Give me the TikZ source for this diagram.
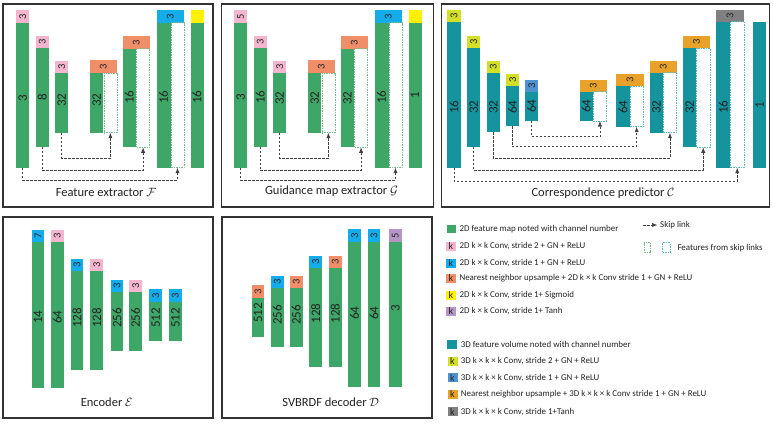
\documentclass[tikz,border=0pt]{standalone}
\usepackage{graphicx}
\usepackage{fontspec}
\setmainfont{Carlito}
\usetikzlibrary{arrows.meta}
\definecolor{fmgreen}{RGB}{62,166,102}
\definecolor{fvteal}{RGB}{22,148,158}
\definecolor{cpink}{RGB}{244,182,206}
\definecolor{cblue}{RGB}{20,172,235}
\definecolor{corange}{RGB}{240,142,106}
\definecolor{cyellow}{RGB}{255,240,0}
\definecolor{cpurple}{RGB}{180,150,198}
\definecolor{cygreen}{RGB}{212,224,40}
\definecolor{cblue3}{RGB}{78,146,210}
\definecolor{corange3}{RGB}{232,162,42}
\definecolor{cgray}{RGB}{128,128,128}
\definecolor{skipgr}{RGB}{120,190,140}
\definecolor{skiptl}{RGB}{90,190,195}
\definecolor{txt}{RGB}{35,35,35}
\tikzset{
  fmbody/.style={fill=fmgreen, draw=none, inner sep=0pt, outer sep=0pt},
  fvbody/.style={fill=fvteal, draw=none, inner sep=0pt, outer sep=0pt},
  skipg/.style={fill=white, draw=skipgr, dash pattern=on 1.5pt off 1pt, line width=0.5pt, inner sep=0pt, outer sep=0pt},
  skipt/.style={fill=white, draw=skiptl, dash pattern=on 1.5pt off 1pt, line width=0.5pt, inner sep=0pt, outer sep=0pt},
  hd/.style={inner sep=0pt, outer sep=0pt, draw=none, text=txt, font=\fontsize{10.5}{10.5}\selectfont},
  lbl/.style={inner sep=0pt, text=txt, font=\fontsize{13}{13}\selectfont},
  skiplink/.style={draw=black!75, line width=0.7pt, dash pattern=on 2.5pt off 1.5pt, -{Latex[length=5.5pt,width=4.2pt]}},
  panel/.style={draw=black!80, line width=1.8pt},
  ttl/.style={inner sep=0pt, text=txt, font=\fontsize{12.5}{12.5}\selectfont},
  lkey/.style={inner sep=0pt, outer sep=0pt, minimum width=10pt, minimum height=9pt, text=txt, font=\fontsize{10}{10}\selectfont},
  ltxt/.style={inner sep=0pt, text=txt, font=\fontsize{8.9}{8.9}\selectfont}
}
% name, x, w, top, bottom, style, label, label y
\newcommand{\fbar}[8]{%
  \node[#6, anchor=north west, minimum width=#3pt, minimum height={#5pt-#4pt}] (#1) at (#2,#4) {};
  \node[lbl] (#1l) at ({#2+#3/2},#8) {\rotatebox{90}{#7}};
}
% name, x, w, top, bottom, style, label
\newcommand{\fhead}[7]{%
  \node[hd, #6, anchor=north west, minimum width=#3pt, minimum height={#5pt-#4pt}] (#1) at (#2,#4) {\rotatebox{90}{#7}};
}
% name, x, w, top, bottom, style
\newcommand{\fskip}[6]{%
  \node[#6, anchor=north west, minimum width=#3pt, minimum height={#5pt-#4pt}] (#1) at (#2,#4) {};
}
% name, x, y, fill, keytext, text x, text
\newcommand{\lentry}[7]{%
  \node[lkey, fill=#4, anchor=west] (#1) at (#2,#3) {#5};
  \node[ltxt, anchor=west] (#1t) at (#6,#3) {#7};
}
\begin{document}
\begin{tikzpicture}[x=1pt,y=-1pt]
\useasboundingbox[fill=white] (0,0) rectangle (773,424);

% ---------- Panel 1: Feature extractor ----------
\draw[panel] (3,4) rectangle (213,207);
\fhead{a1h}{16}{13.3}{10}{22.7}{fill=cpink}{3}
\fbar{a1}{16}{13.3}{22.7}{167.7}{fmbody}{3}{98}
\fhead{a2h}{35.7}{13.3}{36}{48.3}{fill=cpink}{3}
\fbar{a2}{35.7}{13.3}{48.3}{146.7}{fmbody}{8}{97.5}
\fhead{a3h}{55}{13.3}{61.3}{73.3}{fill=cpink}{3}
\fbar{a3}{55}{13.3}{73.3}{132.7}{fmbody}{32}{100}
\fhead{a4h}{89.5}{27.5}{60.3}{73.3}{fill=corange}{3}
\fbar{a4}{90}{13.3}{73.3}{132.7}{fmbody}{32}{100}
\fskip{a4s}{103.8}{13.2}{73.3}{132.7}{skipg}
\fhead{a5h}{122.5}{27.5}{36}{48.7}{fill=corange}{3}
\fbar{a5}{122.7}{13.3}{48.7}{147.3}{fmbody}{16}{97}
\fskip{a5s}{136.5}{13.2}{48.7}{147.3}{skipg}
\fhead{a6h}{156.5}{27.7}{10}{22.7}{fill=cblue}{3}
\fbar{a6}{156.7}{13.8}{22.7}{167.7}{fmbody}{16}{97}
\fskip{a6s}{171}{13}{22.7}{167.7}{skipg}
\fhead{a7h}{190.5}{13}{10}{22.7}{fill=cyellow}{}
\fbar{a7}{190.5}{13}{22.7}{167.7}{fmbody}{16}{97}
\draw[skiplink] (a3.south) -- ++(0,25.6) -| (a4s.south);
\draw[skiplink] (a2.south) -- ++(0,24) -| (a5s.south);
\draw[skiplink] (a1.south) -- ++(0,12.3) -| (a6s.south);
\node[ttl] (t1) at (106,192.5) {Feature extractor $\mathcal{F}$};

% ---------- Panel 2: Guidance map extractor ----------
\draw[panel] (221.5,4) rectangle (433.5,207);
\fhead{b1h}{234}{13.3}{10}{22.7}{fill=cpink}{5}
\fbar{b1}{234}{13.3}{22.7}{167.7}{fmbody}{3}{97}
\fhead{b2h}{253.7}{13.3}{36}{48.3}{fill=cpink}{3}
\fbar{b2}{253.7}{13.3}{48.3}{146.7}{fmbody}{16}{97}
\fhead{b3h}{273}{13.3}{61.3}{73.3}{fill=cpink}{3}
\fbar{b3}{273}{13.3}{73.3}{132.7}{fmbody}{32}{98}
\fhead{b4h}{307.5}{27.5}{60.3}{73.3}{fill=corange}{3}
\fbar{b4}{308}{13.3}{73.3}{132.7}{fmbody}{32}{98}
\fskip{b4s}{321.8}{13.2}{73.3}{132.7}{skipg}
\fhead{b5h}{340.5}{27.5}{36}{48.7}{fill=corange}{3}
\fbar{b5}{340.7}{13.3}{48.7}{147.3}{fmbody}{32}{98}
\fskip{b5s}{354.5}{13.2}{48.7}{147.3}{skipg}
\fhead{b6h}{374.5}{27.7}{10}{22.7}{fill=cblue}{3}
\fbar{b6}{374.7}{13.8}{22.7}{167.7}{fmbody}{16}{97}
\fskip{b6s}{389}{13}{22.7}{167.7}{skipg}
\fhead{b7h}{408.5}{13}{10}{22.7}{fill=cyellow}{}
\fbar{b7}{408.5}{13}{22.7}{167.7}{fmbody}{1}{95}
\draw[skiplink] (b3.south) -- ++(0,25.6) -| (b4s.south);
\draw[skiplink] (b2.south) -- ++(0,24) -| (b5s.south);
\draw[skiplink] (b1.south) -- ++(0,12.3) -| (b6s.south);
\node[ttl] (t2) at (331.5,191) {Guidance map extractor $\mathcal{G}$};

% ---------- Panel 3: Correspondence predictor ----------
\draw[panel] (441.5,4) rectangle (769.5,207);
\fhead{c1h}{447.3}{13.4}{10}{21.7}{fill=cygreen}{3}
\fbar{c1}{447.3}{13.4}{21.7}{167.7}{fvbody}{16}{107}
\fhead{c2h}{467}{13.3}{36}{47.7}{fill=cygreen}{3}
\fbar{c2}{467}{13.3}{47.7}{146.7}{fvbody}{32}{107}
\fhead{c3h}{487}{12.7}{61}{72.7}{fill=cygreen}{3}
\fbar{c3}{487}{12.7}{72.7}{132.3}{fvbody}{32}{107}
\fhead{c4h}{506.3}{12.7}{74.3}{86}{fill=cygreen}{3}
\fbar{c4}{506.3}{12.7}{86}{126}{fvbody}{64}{107}
\fhead{c5h}{525.3}{12.7}{80}{91.7}{fill=cblue3}{3}
\fbar{c5}{525.3}{12.7}{91.7}{120.7}{fvbody}{64}{106}
\fhead{c6h}{579.5}{27.5}{80}{91.7}{fill=corange3}{3}
\fbar{c6}{579.7}{13.3}{91.7}{121}{fvbody}{64}{106}
\fskip{c6s}{593.3}{13.3}{91.7}{121}{skipt}
\fhead{c7h}{616.2}{27.5}{74}{86}{fill=corange3}{3}
\fbar{c7}{616.3}{13.3}{86}{126.7}{fvbody}{64}{107}
\fskip{c7s}{630}{13.3}{86}{126.7}{skipt}
\fhead{c8h}{649.5}{27.5}{60.7}{72.7}{fill=corange3}{3}
\fbar{c8}{649.7}{13.3}{72.7}{132.7}{fvbody}{32}{107}
\fskip{c8s}{663.3}{13.3}{72.7}{132.7}{skipt}
\fhead{c9h}{682.8}{27.5}{36}{48.3}{fill=corange3}{3}
\fbar{c9}{683}{13.3}{48.3}{147.3}{fvbody}{32}{107}
\fskip{c9s}{696.6}{13.3}{48.3}{147.3}{skipt}
\fhead{c10h}{716}{28}{10}{21.7}{fill=cgray}{3}
\fbar{c10}{716.3}{13.9}{21.7}{167.7}{fvbody}{16}{107}
\fskip{c10s}{730.6}{13.2}{21.7}{167.7}{skipt}
\fbar{c11}{753}{13.3}{22.3}{167.7}{fvbody}{1}{105}
\draw[skiplink] (c5.south) -- ++(0,16) -| (c6s.south);
\draw[skiplink] (c4.south) -- ++(0,20.7) -| (c7s.south);
\draw[skiplink] (c3.south) -- ++(0,26) -| (c8s.south);
\draw[skiplink] (c2.south) -- ++(0,23.3) -| (c9s.south);
\draw[skiplink] (c1.south) -- ++(0,13.3) -| (c10s.south);
\node[ttl] (t3) at (603,193.3) {Correspondence predictor $\mathcal{C}$};

% ---------- Panel 4: Encoder ----------
\draw[panel] (3,216.7) rectangle (213.3,418.3);
\fhead{e1h}{31.7}{12.7}{230}{242.3}{fill=cblue}{7}
\fbar{e1}{31.7}{12.7}{242.3}{387.7}{fmbody}{14}{317}
\fhead{e2h}{51}{12.7}{230}{242.3}{fill=cpink}{3}
\fbar{e2}{51}{12.7}{242.3}{387.7}{fmbody}{64}{317}
\fhead{e3h}{70.7}{12.7}{259}{271}{fill=cblue}{3}
\fbar{e3}{70.7}{12.7}{271}{370}{fmbody}{128}{318}
\fhead{e4h}{90.3}{12.7}{259}{271}{fill=cpink}{3}
\fbar{e4}{90.3}{12.7}{271}{370}{fmbody}{128}{318}
\fhead{e5h}{110.7}{12.7}{280}{291.7}{fill=cblue}{3}
\fbar{e5}{110.7}{12.7}{291.7}{351}{fmbody}{256}{318}
\fhead{e6h}{129.3}{12.7}{280}{291.7}{fill=cpink}{3}
\fbar{e6}{129.3}{12.7}{291.7}{351}{fmbody}{256}{318}
\fhead{e7h}{149.3}{12.7}{289.3}{301.7}{fill=cblue}{3}
\fbar{e7}{149.3}{12.7}{301.7}{341}{fmbody}{512}{318}
\fhead{e8h}{169}{12.7}{289.3}{301.7}{fill=cblue}{3}
\fbar{e8}{169}{12.7}{301.7}{341}{fmbody}{512}{318}
\node[ttl] (t4) at (106.7,402.3) {Encoder $\mathcal{E}$};

% ---------- Panel 5: SVBRDF decoder ----------
\draw[panel] (221.7,216.7) rectangle (431.7,418.3);
\fhead{d1h}{251.7}{12.7}{285}{297.7}{fill=corange}{3}
\fbar{d1}{251.7}{12.7}{297.7}{336.7}{fmbody}{512}{313}
\fhead{d2h}{271}{12.7}{275.7}{287.7}{fill=cblue}{3}
\fbar{d2}{271}{12.7}{287.7}{346.7}{fmbody}{256}{315}
\fhead{d3h}{290}{12.7}{275.7}{287.7}{fill=corange}{3}
\fbar{d3}{290}{12.7}{287.7}{346.7}{fmbody}{256}{315}
\fhead{d4h}{309.3}{12.7}{255.7}{267.7}{fill=cblue}{3}
\fbar{d4}{309.3}{12.7}{267.7}{366.7}{fmbody}{128}{313.3}
\fhead{d5h}{329}{12.7}{255.7}{267.7}{fill=corange}{3}
\fbar{d5}{329}{12.7}{267.7}{366.7}{fmbody}{128}{313.3}
\fhead{d6h}{348.3}{12.7}{229}{241.7}{fill=cblue}{3}
\fbar{d6}{348.3}{12.7}{241.7}{386.7}{fmbody}{64}{313}
\fhead{d7h}{367.7}{12.7}{229}{241.7}{fill=cblue}{3}
\fbar{d7}{367.7}{12.7}{241.7}{386.7}{fmbody}{64}{313}
\fhead{d8h}{389}{12.7}{229}{241.7}{fill=cpurple}{5}
\fbar{d8}{389}{12.7}{241.7}{386.7}{fmbody}{3}{308}
\node[ttl] (t5) at (330.7,401.7) {SVBRDF decoder $\mathcal{D}$};

% ---------- Legend ----------
\node[lkey, fill=fmgreen, anchor=west, minimum width=9.3pt, minimum height=8.3pt] (lg0) at (446.7,229) {};
\node[ltxt, anchor=west] (lg0t) at (459.3,229) {2D feature map noted with channel number};
\lentry{lg1}{446}{246}{cpink}{k}{459.3}{2D k × k Conv, stride 2 + GN + ReLU}
\lentry{lg2}{446}{263}{cblue}{k}{459.3}{2D k × k Conv, stride 1 + GN + ReLU}
\lentry{lg3}{446}{278.5}{corange}{k}{459.3}{Nearest neighbor upsample + 2D k × k Conv stride 1 + GN + ReLU}
\lentry{lg4}{446}{295}{cyellow}{k}{459.3}{2D k × k Conv, stride 1+ Sigmoid}
\lentry{lg5}{446}{311}{cpurple}{k}{459.3}{2D k × k Conv, stride 1+ Tanh}

\node[lkey, fill=fvteal, anchor=west, minimum width=9.4pt, minimum height=9.3pt] (lh0) at (447.3,344.7) {};
\node[ltxt, anchor=west] (lh0t) at (460.7,344.7) {3D feature volume noted with channel number};
\lentry{lh1}{447.5}{361}{cygreen}{k}{460.7}{3D k × k × k Conv, stride 2 + GN + ReLU}
\lentry{lh2}{447.5}{377.7}{cblue3}{k}{460.7}{3D k × k × k Conv, stride 1 + GN + ReLU}
\lentry{lh3}{447.5}{394.3}{corange3}{k}{460.7}{Nearest neighbor upsample + 3D k × k × k Conv stride 1 + GN + ReLU}
\lentry{lh4}{447.5}{411.7}{cgray}{k}{460.7}{3D k × k × k Conv, stride 1+Tanh}

\coordinate (sla) at (643,225);
\coordinate (slb) at (657.5,225);
\draw[skiplink] (sla) -- (slb);
\node[ltxt, anchor=west] (slt) at (660,225) {Skip link};
\node[skipg, anchor=north west, minimum width=6.7pt, minimum height=10pt] (fb1) at (644,242.7) {};
\node[skipt, anchor=north west, minimum width=7.3pt, minimum height=10pt] (fb2) at (662.7,242.7) {};
\node[ltxt, anchor=west] (fbt) at (677.3,247.7) {Features from skip links};
\end{tikzpicture}
\end{document}
